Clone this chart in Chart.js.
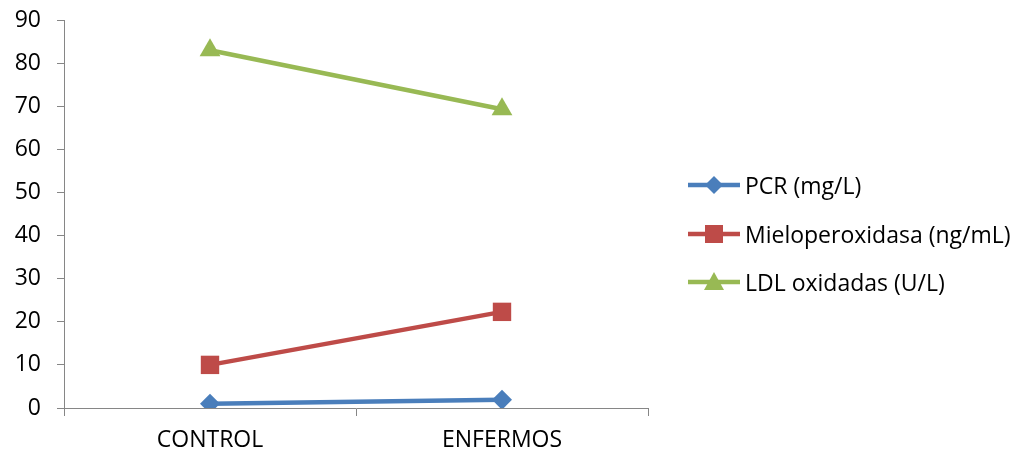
<!DOCTYPE html>
<html>
<head>
<meta charset="utf-8">
<script src="https://cdn.jsdelivr.net/npm/chart.js@4"></script>
<style>
  html, body { margin: 0; padding: 0; background: #fff; }
  #wrap { position: relative; width: 1021px; height: 457px; }
  .chart-legend { position: absolute; left: 686px; top: 170px; font-family: 'Open Sans', sans-serif; font-size: 23px; color: #000; }
  .legend-item { display: flex; align-items: center; height: 30px; margin-bottom: 18.5px; }
  .legend-item svg { margin-right: 3px; }
</style>
</head>
<body>
<div id="wrap">
  <canvas id="chart"></canvas>
  <div class="chart-legend"></div>
</div>
<script>
(function () {
  'use strict';

  var CATEGORIES = ['CONTROL', 'ENFERMOS'];
  var SERIES_LABELS = ['PCR (mg/L)', 'Mieloperoxidasa (ng/mL)', 'LDL oxidadas (U/L)'];
  var PCR = [1.0, 1.9];
  var MIELO = [10.0, 22.3];
  var LDL = [83.0, 69.3];
  var Y_MIN = 0, Y_MAX = 90, Y_STEP = 10;

  var COLORS = ['#4A7EBB', '#BE4B48', '#98B954'];
  var POINTS = ['rectRot', 'rect', 'triangle'];
  var RADII = [10, 13, 12];
  var FONT = "'Open Sans', sans-serif";
  var AXIS = '#868686';

  var values = [PCR, MIELO, LDL];

  var datasets = values.map(function (vals, i) {
    return {
      label: SERIES_LABELS[i],
      data: vals,
      borderColor: COLORS[i],
      backgroundColor: COLORS[i],
      borderWidth: 4.5,
      pointStyle: POINTS[i],
      pointRadius: RADII[i],
      pointBorderWidth: 0,
      pointBackgroundColor: COLORS[i],
      tension: 0
    };
  });

  new Chart(document.getElementById('chart').getContext('2d'), {
    type: 'line',
    data: { labels: CATEGORIES, datasets: datasets },
    options: {
      responsive: true,
      maintainAspectRatio: false,
      animation: false,
      layout: { padding: { top: 20, right: 373, left: 0, bottom: 0 } },
      scales: {
        x: {
          offset: true,
          grid: { offset: true, drawOnChartArea: false, color: AXIS, tickLength: 8, tickWidth: 1 },
          border: { color: AXIS, width: 1 },
          ticks: { color: '#000', font: { family: FONT, size: 23 }, padding: 11 },
          afterFit: function (s) { s.height = 49; }
        },
        y: {
          min: Y_MIN,
          max: Y_MAX,
          ticks: { stepSize: Y_STEP, color: '#000', font: { family: FONT, size: 23 }, padding: 16 },
          grid: { drawOnChartArea: false, color: AXIS, tickLength: 7, tickWidth: 1 },
          border: { color: AXIS, width: 1 },
          afterFit: function (s) { s.width = 64; s.paddingTop = 0; s.paddingBottom = 0; }
        }
      },
      plugins: {
        legend: { display: false },
        tooltip: { enabled: false }
      }
    }
  });

  // Legend on the right, line + marker sample
  var legend = document.querySelector('.chart-legend');
  var ns = 'http://www.w3.org/2000/svg';
  SERIES_LABELS.forEach(function (label, idx) {
    var item = document.createElement('div');
    item.className = 'legend-item';
    var svg = document.createElementNS(ns, 'svg');
    svg.setAttribute('width', '56');
    svg.setAttribute('height', '24');
    var line = document.createElementNS(ns, 'line');
    line.setAttribute('x1', '2'); line.setAttribute('x2', '54');
    line.setAttribute('y1', '12'); line.setAttribute('y2', '12');
    line.setAttribute('stroke', COLORS[idx]);
    line.setAttribute('stroke-width', '4.5');
    svg.appendChild(line);
    var mark = document.createElementNS(ns, 'polygon');
    var pts = idx === 0 ? '28,3 37,12 28,21 19,12'
      : idx === 1 ? '19,3 37,3 37,21 19,21'
      : '28,2 38,20 18,20';
    mark.setAttribute('points', pts);
    mark.setAttribute('fill', COLORS[idx]);
    svg.appendChild(mark);
    item.appendChild(svg);
    var text = document.createElement('span');
    text.textContent = label;
    item.appendChild(text);
    legend.appendChild(item);
  });
})();
</script>
</body>
</html>
